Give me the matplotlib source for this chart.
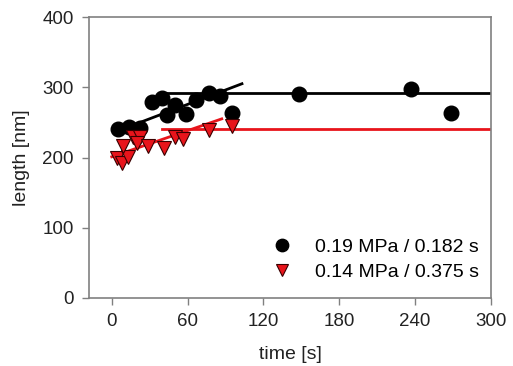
import numpy as np
import matplotlib
matplotlib.use("Agg")
import matplotlib.pyplot as plt

# Data
t_black = [5, 14, 22, 32, 40, 44, 50, 59, 67, 77, 86, 95, 148, 237, 268]
L_black = [240, 243, 242, 279, 285, 260, 275, 262, 282, 292, 287, 263, 290, 297, 263]
t_red = [4, 8, 13, 9, 17, 22, 20, 29, 41, 50, 56, 77, 95]
L_red = [199, 192, 201, 216, 229, 229, 221, 216, 213, 229, 226, 239, 245]

# fit lines (slope part and plateau)
black_slope_t = [2, 103]
black_slope_L = [236, 305]
black_plateau_t = [38, 300]
black_plateau_L = [292, 292]
red_slope_t = [0, 87]
red_slope_L = [201, 255]
red_plateau_t = [40, 300]
red_plateau_L = [240, 240]

labels = ["0.19 MPa / 0.182 s", "0.14 MPa / 0.375 s"]

plt.rcParams['font.family'] = ['Liberation Sans', 'DejaVu Sans']

fig = plt.figure(figsize=(5.13, 3.66), dpi=100)
ax = fig.add_axes([89 / 513, 1 - 298 / 366, (491 - 89) / 513, (298 - 17) / 366])

ax.plot(black_slope_t, black_slope_L, color='black', lw=2, zorder=2)
ax.plot(black_plateau_t, black_plateau_L, color='black', lw=2, zorder=2)
ax.plot(red_slope_t, red_slope_L, color='#e8141b', lw=2, zorder=2)
ax.plot(red_plateau_t, red_plateau_L, color='#e8141b', lw=2, zorder=2)

ax.plot(t_black, L_black, 'o', ms=10.5, color='black', mec='black', zorder=3, label=labels[0])
ax.plot(t_red, L_red, 'v', ms=10.5, color='#e8141b', mec='#3a0000', mew=0.8, zorder=3, label=labels[1])

ax.set_xlim(-18, 300)
ax.set_ylim(0, 400)
ax.set_xticks([0, 60, 120, 180, 240, 300])
ax.set_yticks([0, 100, 200, 300, 400])

for s in ax.spines.values():
    s.set_color('#808080')
    s.set_linewidth(1.2)
ax.tick_params(direction='out', color='#808080', width=1, length=5, pad=6,
               labelsize=13.5, labelcolor='#222222')
ax.set_xlabel("time [s]", fontsize=14, color='#222222', labelpad=11)
ax.set_ylabel("length [nm]", fontsize=14, color='#222222', labelpad=9)

leg = ax.legend(loc='lower left', bbox_to_anchor=(0.432, 0.06), frameon=False,
                fontsize=14, handlelength=2, handletextpad=0.7, borderpad=0,
                borderaxespad=0, labelspacing=0.4, markerscale=0.85)

fig.savefig("out.png", dpi=100)
